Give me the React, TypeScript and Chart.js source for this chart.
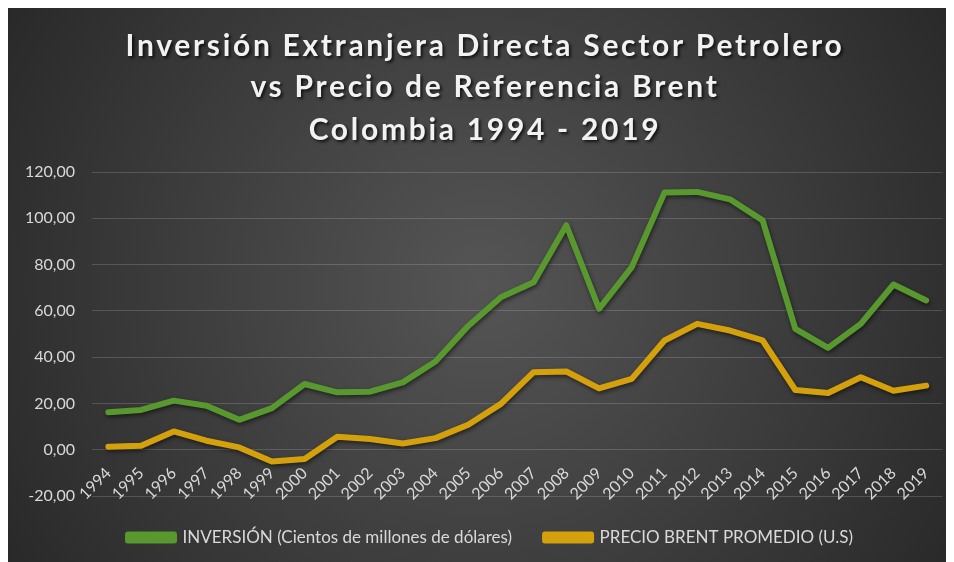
import React, { useEffect, useRef } from "react";
import { Chart, registerables } from "chart.js";

Chart.register(...registerables);

const years = ["1994","1995","1996","1997","1998","1999","2000","2001","2002","2003","2004","2005","2006","2007","2008","2009","2010","2011","2012","2013","2014","2015","2016","2017","2018","2019"];
const inversion = [16.2, 17.2, 21.2, 19.0, 12.9, 18.0, 28.4, 24.8, 25.1, 29.1, 38.1, 53.5, 65.9, 72.4, 97.0, 60.9, 78.9, 111.1, 111.4, 108.2, 99.1, 52.2, 44.0, 54.4, 71.4, 64.5];
const brent = [1.3, 1.7, 7.9, 3.9, 1.0, -5.1, -4.0, 5.6, 4.6, 2.7, 5.0, 10.8, 19.8, 33.5, 33.8, 26.5, 30.6, 47.2, 54.4, 51.5, 47.2, 25.8, 24.5, 31.3, 25.5, 27.7];
const titleLines = ["Inversión Extranjera Directa Sector Petrolero", "vs Precio de Referencia Brent", "Colombia 1994 - 2019"];
const seriesNames = ["INVERSIÓN (Cientos de millones de dólares)", "PRECIO BRENT PROMEDIO (U.S)"];

const GREEN = "#58982f";
const GOLD = "#d4a00c";

const bgPlugin = {
  id: "bg",
  beforeDraw(chart: any) {
    const { ctx, width, height } = chart;
    ctx.save();
    const g = ctx.createRadialGradient(width * 0.5, height * 0.5, 0, width * 0.5, height * 0.5, width * 0.62);
    g.addColorStop(0, "#555555");
    g.addColorStop(1, "#262626");
    ctx.fillStyle = g;
    ctx.fillRect(0, 0, width, height);
    ctx.restore();
  },
};

const titlePlugin = {
  id: "customTitle",
  afterDraw(chart: any) {
    const { ctx, width } = chart;
    ctx.save();
    ctx.font = "bold 30px Lato";
    ctx.fillStyle = "#f2f2f2";
    ctx.textAlign = "center";
    ctx.textBaseline = "alphabetic";
    ctx.shadowColor = "rgba(0,0,0,0.7)";
    ctx.shadowBlur = 3;
    ctx.shadowOffsetX = 2;
    ctx.shadowOffsetY = 2;
    (ctx as any).letterSpacing = "2.7px";
    const baselines = [48, 89, 132];
    titleLines.forEach((t, i) => ctx.fillText(t, width / 2 + 4, baselines[i]));
    ctx.restore();
  },
};

const legendShiftPlugin = {
  id: "legendShift",
  afterLayout(chart: any) {
    const lg = chart.legend;
    if (lg) {
      lg.left += 15;
      lg.right += 15;
    }
  },
};

const shadowPlugin = {
  id: "lineShadow",
  beforeDatasetDraw(chart: any) {
    const ctx = chart.ctx;
    ctx.save();
    ctx.shadowColor = "rgba(0,0,0,0.55)";
    ctx.shadowBlur = 4;
    ctx.shadowOffsetX = 1;
    ctx.shadowOffsetY = 2;
  },
  afterDatasetDraw(chart: any) {
    chart.ctx.restore();
  },
};

export default function App() {
  const ref = useRef<HTMLCanvasElement | null>(null);
  useEffect(() => {
    if (!ref.current) return;
    const chart = new Chart(ref.current, {
      type: "line",
      data: {
        labels: years,
        datasets: [
          {
            label: seriesNames[0],
            data: inversion,
            borderColor: GREEN,
            backgroundColor: GREEN,
            borderWidth: 6,
            pointRadius: 0,
            tension: 0,
            borderCapStyle: "round",
            borderJoinStyle: "round",
          },
          {
            label: seriesNames[1],
            data: brent,
            borderColor: GOLD,
            backgroundColor: GOLD,
            borderWidth: 6,
            pointRadius: 0,
            tension: 0,
            borderCapStyle: "round",
            borderJoinStyle: "round",
          },
        ],
      },
      options: {
        responsive: false,
        animation: false,
        layout: { padding: { top: 164, left: 0, right: 11, bottom: 6 } },
        plugins: {
          title: { display: false },
          tooltip: { enabled: false },
          legend: {
            position: "bottom",
            labels: {
              color: "#d9d9d9",
              font: { family: "Lato", size: 17 },
              boxWidth: 46,
              boxHeight: 6,
              padding: 33,
            },
          },
        },
        scales: {
          x: {
            position: { y: 0 } as any,
            offset: true,
            grid: { display: false, drawTicks: false },
            border: { display: false },
            ticks: {
              color: "#d9d9d9",
              font: { family: "Lato", size: 16 },
              minRotation: 45,
              maxRotation: 45,
              padding: 14,
              autoSkip: false,
            },
          },
          y: {
            min: -20,
            max: 120,
            afterFit(scale: any) {
              scale.width = 84;
            },
            grid: { color: "rgba(255,255,255,0.16)", drawTicks: false, lineWidth: 1 },
            border: { display: false },
            ticks: {
              stepSize: 20,
              color: "#d9d9d9",
              font: { family: "Lato", size: 16 },
              padding: 17,
              callback: (v: any) => Number(v).toFixed(2).replace(".", ","),
            },
          },
        },
      },
      plugins: [bgPlugin, titlePlugin, shadowPlugin, legendShiftPlugin],
    });
    return () => chart.destroy();
  }, []);
  return (
    <div style={{ width: 946, height: 554 }}>
      <canvas ref={ref} width={946} height={554} style={{ display: "block" }} />
    </div>
  );
}
